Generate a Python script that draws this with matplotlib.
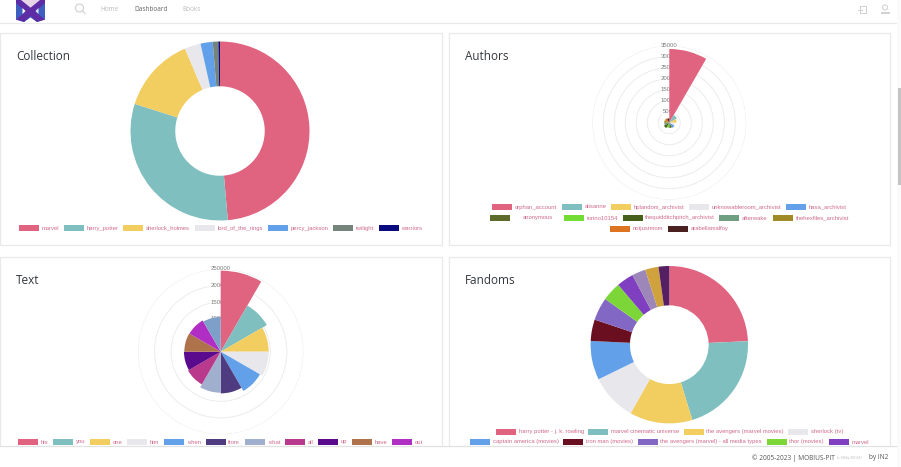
import numpy as np
import matplotlib
matplotlib.use("Agg")
import matplotlib.pyplot as plt
from matplotlib.patches import Rectangle, Polygon, Circle

W, H = 901, 467
PINK = '#E0637F'; TEAL = '#7FBFBF'; YEL = '#F2CD60'; LIGHT = '#E8E8EC'; BLUE = '#62A0EA'
LEGEND_TEXT = '#CF6A8C'

collection_labels = ['marvel', 'harry_potter', 'sherlock_holmes', 'lord_of_the_rings',
                     'percy_jackson', 'twilight', 'warriors']
collection_values = [48.6, 31.3, 13.7, 2.9, 2.2, 1.0, 0.3]
collection_colors = [PINK, TEAL, YEL, LIGHT, BLUE, '#75857B', '#0B0B80']

authors_labels = ['orphan_account', 'alisanne', 'hplandom_archivist', 'unknowableroom_archivist',
                  'hasa_archivist', 'anonymous', 'torino10154', 'thequidditchpitch_archivist',
                  'afterwake', 'thehexfiles_archivist', 'notjustmom', 'arabellamalfoy']
authors_values = [33500, 4000, 3300, 2300, 2700, 2400, 2300, 2800, 2300, 2300, 2300, 2000]
authors_colors = [PINK, TEAL, YEL, LIGHT, BLUE, '#5E6A2A', '#72DB34', '#46601A',
                  '#6E9F80', '#9F8A25', '#DC7422', '#4A2020']
authors_ticks = [5000, 10000, 15000, 20000, 25000, 30000, 35000]

text_labels = ['his', 'you', 'one', 'him', 'when', 'from', 'what', 'all', 'up', 'have', 'out']
text_values = [245000, 161000, 145000, 145000, 137000, 126000, 124000, 114000, 111000, 110000, 109000, 105000]
text_colors = [PINK, TEAL, YEL, LIGHT, BLUE, '#4F3B7F', '#A0AFCD', '#B93A8C',
               '#5A0A8C', '#AE734A', '#B12EC4', '#7EA0C8']
text_ticks = [50000, 100000, 150000, 200000, 250000]

fandom_labels = ['harry potter - j. k. rowling', 'marvel cinematic universe',
                 'the avengers (marvel movies)', 'sherlock (tv)', 'captain america (movies)',
                 'iron man (movies)', 'the avengers (marvel) - all media types', 'thor (movies)',
                 'marvel']
fandom_values = [24.3, 21.0, 12.9, 9.6, 8.0, 4.4, 4.7, 3.9, 3.5, 2.8, 2.75, 2.2]
fandom_colors = [PINK, TEAL, YEL, LIGHT, BLUE, '#6A0F1F', '#8268C4', '#7DD637',
                 '#7F3FC0', '#9C87B8', '#CFA23E', '#551F63']

fig = plt.figure(figsize=(W / 100, H / 100), dpi=100, facecolor='white')


def px_axes(z):
    a = fig.add_axes([0, 0, 1, 1], zorder=z)
    a.set_xlim(0, W); a.set_ylim(H, 0); a.axis('off'); a.patch.set_alpha(0)
    return a


def square_axes(cx, cy, r, **kw):
    return fig.add_axes([(cx - r) / W, 1 - (cy + r) / H, 2 * r / W, 2 * r / H], zorder=2, **kw)


bg = px_axes(0)
for (x0, y0, x1, y1) in [(0, 32.5, 441.5, 244.5), (449, 32.5, 889.5, 244.5),
                         (0, 256.5, 441.5, 460), (449, 256.5, 889.5, 460)]:
    bg.add_patch(Rectangle((x0, y0), x1 - x0, y1 - y0, fc='white', ec='#E9E9E9', lw=0.9))
for t, x, y in [('Collection', 16, 56), ('Authors', 465, 56), ('Text', 16, 280.5), ('Fandoms', 465, 280.5)]:
    bg.text(x, y, t, fontsize=8.5, family='Open Sans', color='#33383D', va='center', ha='left')


def donut(cx, cy, r, hole, values, colors):
    a = square_axes(cx, cy, r)
    a.pie(values, colors=colors, startangle=90, counterclock=False, radius=1,
          wedgeprops=dict(width=1 - hole, linewidth=0))
    a.set_xlim(-1, 1); a.set_ylim(-1, 1); a.set_aspect('equal')
    a.patch.set_alpha(0)


def polar(cx, cy, r, values, colors, ticks):
    a = square_axes(cx, cy, r, projection='polar')
    a.set_theta_zero_location('N'); a.set_theta_direction(-1)
    step = 2 * np.pi / len(values)
    th = np.arange(len(values)) * step
    a.bar(th, values, width=step, align='edge', color=colors, edgecolor='none', linewidth=0, zorder=3)
    a.set_ylim(0, ticks[-1])
    a.set_rgrids(ticks, labels=[''] * len(ticks))
    a.set_thetagrids([])
    a.yaxis.grid(True, color='#ECECEC', lw=0.7)
    a.spines['polar'].set_visible(False)
    a.patch.set_alpha(0)
    for t in ticks:
        a.text(0, t, str(t), ha='center', va='center', fontsize=4.3, family='Liberation Sans',
               color='#7A7A7A', zorder=2, clip_on=False,
               bbox=dict(fc='white', ec='none', pad=0.3))


donut(220, 131, 89.5, 0.5, collection_values, collection_colors)
polar(669.3, 122.7, 77, authors_values, authors_colors, authors_ticks)
polar(220.7, 351.7, 82.7, text_values, text_colors, text_ticks)
donut(669.3, 344.7, 78.7, 0.5, fandom_values, fandom_colors)


def legend(rows, labels, colors):
    i = 0
    for y, swatches, texts in rows:
        for sx, tx in zip(swatches, texts):
            bg.add_patch(Rectangle((sx, y - 3), 20, 6, fc=colors[i], ec='none'))
            bg.text(tx, y, labels[i], fontsize=4.25, family='Liberation Sans', color=LEGEND_TEXT,
                    va='center', ha='left')
            i += 1


z3 = lambda v, off=0: [off + k / 3 for k in v]
legend([(228.3, z3([57, 192, 370, 585, 804, 1000, 1136]), z3([125, 261, 438, 653, 871, 1067, 1203]))],
       collection_labels, collection_colors)
legend([(207, z3([126, 335, 483, 718, 1009], 450), z3([195, 403, 552, 786, 1077], 450)),
        (218, z3([120, 342, 518, 807, 970], 450), z3([217, 410, 585, 875, 1037], 450)),
        (228.7, z3([481, 654], 450), z3([548, 721], 450))],
       authors_labels, authors_colors)
legend([(442, z3([54, 160, 271, 382, 492, 618, 735, 855, 954, 1057, 1177]),
         z3([123, 228, 338, 450, 560, 685, 803, 922, 1022, 1124, 1245]))],
       text_labels, text_colors)
legend([(431.7, z3([137, 414, 701, 1015], 450), z3([206, 482, 768, 1082], 450)),
        (442, z3([60, 340, 564, 950, 1137], 450), z3([128, 407, 630, 1018, 1204], 450))],
       fandom_labels, fandom_colors)

# page chrome on top: header, footer, scrollbar
top = px_axes(5)
top.add_patch(Rectangle((0, 445.5), W, 22, fc='white', ec='none'))
top.plot([0, 896], [445.5, 445.5], color='#E2E2E2', lw=0.9)
top.plot([0, 896], [22.5, 22.5], color='#E9E9E9', lw=0.8)
top.add_patch(Rectangle((896.5, 0), 4.5, H, fc='#FAFAFA', ec='none'))
top.add_patch(Rectangle((897.5, 88), 3.5, 97, fc='#C4C4C4', ec='none'))
kw = dict(fontsize=4.7, family='Open Sans', va='center', ha='center')
top.text(109.5, 9.5, 'Home', color='#BDBDBD', **kw)
top.text(151, 9.5, 'Dashboard', color='#666666', **kw)
top.text(192, 9.5, 'Books', color='#BDBDBD', **kw)
ft = dict(fontsize=4.7, family='Open Sans', va='center', ha='left', color='#555555')
top.text(751.5, 457.7, '© 2005-2023 | MOBIUS-PIT', **ft)
top.text(837, 457.7, '(v.5Ma.8034)', fontsize=3.2, family='Open Sans', va='center', ha='left', color='#C0C0C0')
top.text(869.3, 457.7, 'by IN2', **ft)
# search icon
top.add_patch(Circle((79.5, 8), 4, fc='none', ec='#CFCFCF', lw=0.8))
top.plot([82.5, 85], [11, 13.5], color='#CFCFCF', lw=0.8)
# logout / user icons
top.plot([860, 860, 866, 866, 860], [6, 13, 13, 6, 6], color='#D0D0D0', lw=0.7)
top.plot([858, 862], [9.5, 9.5], color='#D0D0D0', lw=0.7)
top.add_patch(Circle((885, 7.5), 2.6, fc='none', ec='#D0D0D0', lw=0.7))
top.plot([881, 881, 889, 889, 881], [13, 11.5, 11.5, 13, 13], color='#D0D0D0', lw=0.7)
# logo
top.add_patch(Polygon([(16, 0), (45, 0), (45, 19.5), (37, 22), (30.5, 17.5), (24, 22), (16, 19.5)],
                      fc='#3F5FC0', ec='none'))
top.add_patch(Polygon([(19, 0), (42, 0), (30.5, 10)], fc='#E8D4E8', ec='none'))
top.add_patch(Polygon([(16, 0), (21, 0), (45, 19.5), (37, 22), (16, 3)], fc='#5E2CA5', ec='none'))
top.add_patch(Polygon([(45, 0), (40, 0), (16, 19.5), (24, 22), (45, 3)], fc='#5E2CA5', ec='none'))
top.add_patch(Polygon([(22.5, 8), (25.5, 11), (22.5, 14)], fc='white', ec='none'))
top.add_patch(Polygon([(38.5, 8), (35.5, 11), (38.5, 14)], fc='#DDE3F5', ec='none'))

fig.savefig('out.png', dpi=100, facecolor='white')
